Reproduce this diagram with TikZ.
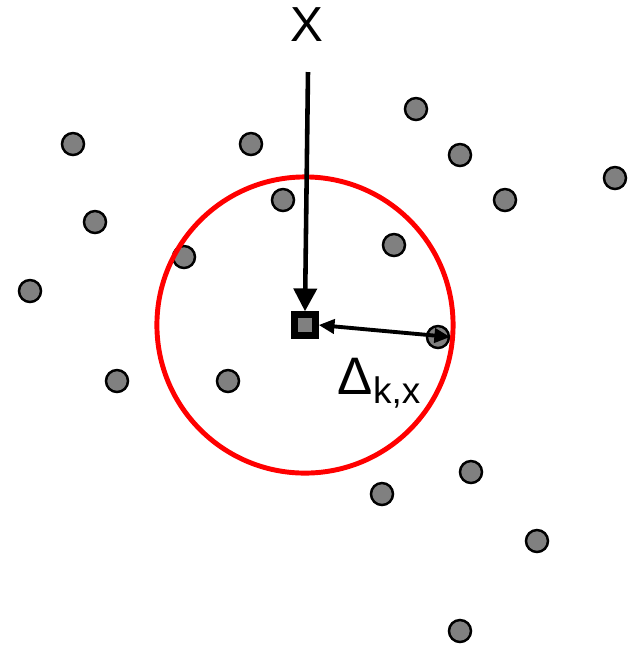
\documentclass[tikz,border=0pt]{standalone}
\usepackage{fontspec}
\setmainfont{Liberation Sans}
\usetikzlibrary{arrows.meta}
\tikzset{
  pt/.style={circle, draw=black, line width=0.7pt, fill=gray, minimum size=0.22cm, inner sep=0pt},
  qry/.style={rectangle, draw=black, line width=1.8pt, fill=gray, minimum size=0.21cm, inner sep=0pt},
}
\begin{document}
\begin{tikzpicture}[x=0.01cm, y=-0.01cm]
  \useasboundingbox (0,0) rectangle (635,647);
  % data points
  \foreach \px/\py [count=\i] in {73/144, 251/144, 416/109, 460/155, 615/178, 505/200,
      95/222, 283/200, 394/245, 184/257, 30/291, 117/381, 228/381, 438/337,
      471/472, 382/494, 537/541, 460/631}
    \node[pt] (d\i) at (\px,\py) {};
  % neighbourhood ball
  \node[circle, draw=red, line width=1.4pt, minimum size=2.96cm, inner sep=0pt] (ball) at (305,325) {};
  % query point
  \node[qry] (q) at (305,325) {};
  \node[font=\fontsize{14}{16}\selectfont] (xlab) at (307,25) {X};
  \coordinate (top) at (308,72);
  \draw[line width=1.3pt, -{Triangle[length=6.5pt, width=6.5pt]}] (top) -- (q.north);
  % radius
  \draw[line width=1.1pt, {Triangle[length=4.5pt, width=4pt]}-{Triangle[length=4.5pt, width=4pt]}] (q.east) -- (d14.east);
  \node[font=\fontsize{15}{18}\selectfont] (rad) at (380,383) {Δ\textsubscript{k,x}};
\end{tikzpicture}
\end{document}
